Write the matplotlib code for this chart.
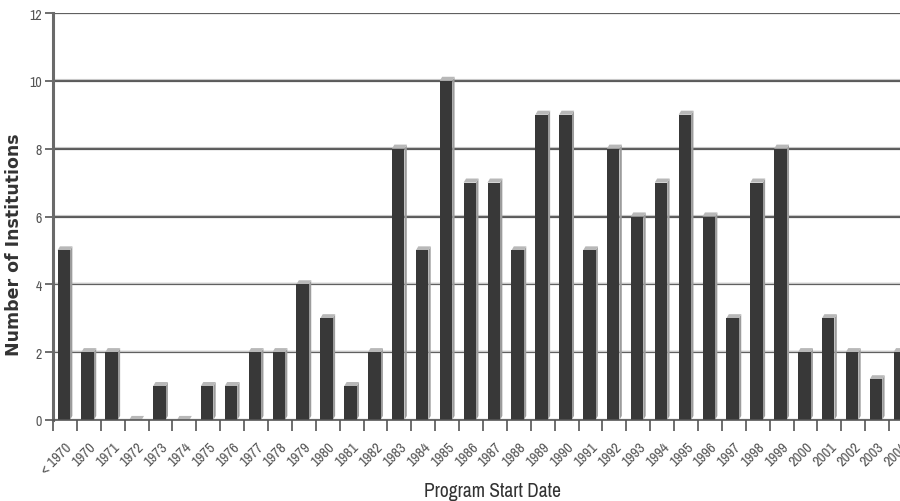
import numpy as np
import matplotlib
matplotlib.use("Agg")
import matplotlib.pyplot as plt
from matplotlib.patches import Polygon

years = ['< 1970'] + [str(y) for y in range(1970, 2005)]
counts = [5, 2, 2, 0, 1, 0, 1, 1, 2, 2, 4, 3, 1, 2, 8, 5, 10, 7, 7, 5,
          9, 9, 5, 8, 6, 7, 9, 6, 3, 7, 8, 2, 3, 2, 1.2, 2]
yticks = [0, 2, 4, 6, 8, 10, 12]

narrow = ['Archivo Narrow', 'PT Sans Narrow', 'DejaVu Sans']

fig = plt.figure(figsize=(9, 5.02), dpi=100)
# axes run a bit past the right edge, as in the original
ax = fig.add_axes([53 / 900, 81 / 502, 860 / 900, 407 / 502])

x = np.arange(len(years))
w = 0.52
off = -0.05
dx, dy = 0.1, 0.12

# grid lines
for t in yticks:
    c = '#9a9a9a' if t == 0 else '#5a5a5a'
    ax.axhline(t, color=c, lw=1.6, zorder=1)
    ax.axhline(t + 0.04, color='#c8c8c8', lw=0.8, zorder=1)

for xi, v in zip(x, counts):
    l = xi + off - w / 2
    r = xi + off + w / 2
    # side and top of the 3d bar
    ax.add_patch(Polygon([(r, 0), (r + dx, dy), (r + dx, v + dy), (r, v)],
                         closed=True, fc='#9c9c9c', ec='none', zorder=2))
    ax.add_patch(Polygon([(l, v), (l + dx, v + dy), (r + dx, v + dy), (r, v)],
                         closed=True, fc='#b8b8b8', ec='none', zorder=3))
    if v > 0:
        ax.bar(xi + off, v, width=w, color='#383838', zorder=4)

ax.set_xlim(-0.5, len(years) - 0.5)
ax.set_ylim(0, 12)

for s in ['top', 'right', 'bottom']:
    ax.spines[s].set_visible(False)
ax.spines['left'].set_color('#6a6a6a')
ax.spines['left'].set_linewidth(2.2)

ax.set_yticks(yticks)
ax.set_yticklabels([str(t) for t in yticks], family=narrow, fontsize=10, color='#555555')
ax.tick_params(axis='y', length=6, width=1.2, color='#555555', pad=2)

ax.set_xticks(x - 0.5, minor=True)
ax.set_xticks(x)
ax.set_xticklabels(years, rotation=45, ha='right', rotation_mode='anchor',
                   family=narrow, fontsize=10.5, color='#555555')
ax.tick_params(axis='x', which='major', length=0, pad=14)
ax.tick_params(axis='x', which='minor', length=8, width=1.2, color='#555555')
ax.axhline(0, color='#555555', lw=1.2, zorder=5, clip_on=False)

fig.text(0.016, 0.512, 'Number of Institutions', rotation=90, ha='center', va='center',
         family='DejaVu Sans', fontsize=12.5, fontweight='bold', color='#333333')
fig.text(0.547, 0.02, 'Program Start Date', ha='center', va='center',
         family=narrow, fontsize=14, color='#333333')

fig.savefig('out.png', dpi=100)
